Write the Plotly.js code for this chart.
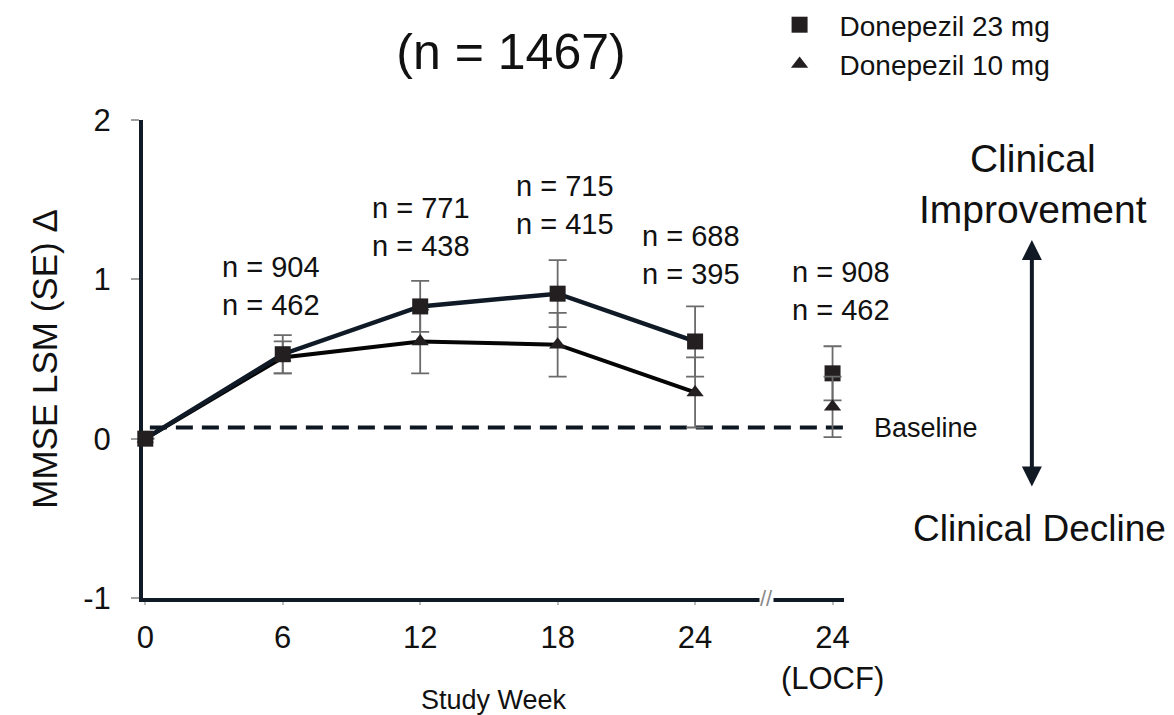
<!DOCTYPE html>
<html>
<head>
<meta charset="utf-8">
<script src="https://cdn.plot.ly/plotly-3.0.1.min.js"></script>
<style>html,body{margin:0;padding:0;background:#fff;}#chart{width:1174px;height:715px;}</style>
</head>
<body>
<div id="chart"></div>
<script>
// ---- data ----
const weeks = [0, 6, 12, 18, 24];
const mean23 = [0, 0.53, 0.83, 0.91, 0.61];
const se23 = [null, 0.12, 0.16, 0.21, 0.22];
const mean10 = [0, 0.51, 0.61, 0.59, 0.29];
const se10 = [null, 0.10, 0.20, 0.20, 0.22];
const locfMean23 = [0.41];
const locfSe23 = [0.17];
const locfMean10 = [0.20];
const locfSe10 = [0.19];
const n23 = [904, 771, 715, 688, 908];
const n10 = [462, 438, 415, 395, 462];
const tickVals = [0, 6, 12, 18, 24, 30];
const tickText = ['0', '6', '12', '18', '24', '24<br>(LOCF)'];
const baselineValue = 0.07;

// ---- layout helpers (positions, not data) ----
const locfSlot = [30];
const nLabelX = [5.5, 12.05, 18.3, 23.8, 30.35];
const nLabelY = [0.96, 1.33, 1.465, 1.15, 0.925];
const breakX = 27.1;

const FONT = 'Liberation Sans, Arial, Helvetica, sans-serif';
const NAVY = '#0f1a26';
const MARK = '#231f20';
const ERR = '#6b6b6b';

const traces = [
  {
    x: weeks, y: mean10, name: 'Donepezil 10 mg', mode: 'lines+markers', showlegend: false,
    line: {color: '#050505', width: 4},
    marker: {symbol: 'triangle-up', size: 15, color: MARK},
    error_y: {type: 'data', array: se10, visible: true, color: ERR, thickness: 1.8, width: 9},
    cliponaxis: false
  },
  {
    x: weeks, y: mean23, name: 'Donepezil 23 mg', mode: 'lines+markers', showlegend: false,
    line: {color: NAVY, width: 4.5},
    marker: {symbol: 'square', size: 16, color: MARK},
    error_y: {type: 'data', array: se23, visible: true, color: ERR, thickness: 1.8, width: 9},
    cliponaxis: false
  },
  {
    x: locfSlot, y: locfMean23, name: 'Donepezil 23 mg', mode: 'markers', legendrank: 1,
    marker: {symbol: 'square', size: 16, color: MARK},
    error_y: {type: 'data', array: locfSe23, visible: true, color: ERR, thickness: 1.8, width: 9},
    cliponaxis: false
  },
  {
    x: locfSlot, y: locfMean10, name: 'Donepezil 10 mg', mode: 'markers', legendrank: 2,
    marker: {symbol: 'triangle-up', size: 15, color: MARK},
    error_y: {type: 'data', array: locfSe10, visible: true, color: ERR, thickness: 1.8, width: 9},
    cliponaxis: false
  }
];

const annotations = n23.map((v, i) => ({
  x: nLabelX[i], y: nLabelY[i], xref: 'x', yref: 'y',
  text: 'n = ' + v + '<br>n = ' + n10[i], showarrow: false,
  font: {family: FONT, size: 29, color: '#111'}, align: 'center',
  xanchor: 'center', yanchor: 'middle'
}));

annotations.push(
  {x: 1.04, y: baselineValue, xref: 'paper', yref: 'y', text: 'Baseline', showarrow: false,
   xanchor: 'left', yanchor: 'middle', font: {family: FONT, size: 27, color: '#111'}},
  {x: 1.27, y: 0.866, xref: 'paper', yref: 'paper', text: 'Clinical<br>Improvement', showarrow: false,
   xanchor: 'center', yanchor: 'middle', font: {family: FONT, size: 39, color: '#111'}},
  {x: 1.279, y: 0.146, xref: 'paper', yref: 'paper', text: 'Clinical Decline', showarrow: false,
   xanchor: 'center', yanchor: 'middle', font: {family: FONT, size: 37, color: '#111'}},
  {x: 1.268, y: 0.749, xref: 'paper', yref: 'paper', ax: 0, ay: 248, axref: 'pixel', ayref: 'pixel',
   text: '', showarrow: true, arrowhead: 2, startarrowhead: 2, arrowside: 'end+start',
   arrowsize: 1, startarrowsize: 1, arrowwidth: 4, arrowcolor: '#111a24'},
  {x: breakX, y: -1, xref: 'x', yref: 'y', text: '//', showarrow: false,
   font: {family: FONT, size: 22, color: '#8a8a8a'}, xanchor: 'center', yanchor: 'middle',
   bgcolor: '#ffffff', borderpad: 0}
);

const shapes = [
  {type: 'line', xref: 'x', yref: 'y', x0: 0.2, x1: 30.5, y0: baselineValue, y1: baselineValue,
   line: {color: '#0d1722', width: 4, dash: '17px,9px'}, layer: 'below'}
];

const layout = {
  width: 1174, height: 715,
  margin: {l: 143, r: 330, t: 120, b: 117, autoexpand: false},
  paper_bgcolor: '#fff', plot_bgcolor: '#fff',
  font: {family: FONT, color: '#111'},
  title: {text: '(n = 1467)', x: 0.525, xref: 'paper', xanchor: 'center', y: 0.928, yref: 'container', yanchor: 'middle',
          font: {family: FONT, size: 50, color: '#111'}},
  showlegend: true,
  legend: {x: 0.647, xref: 'container', xanchor: 'left', y: 1.003, yref: 'container', yanchor: 'top',
           font: {family: FONT, size: 28, color: '#111'},
           bgcolor: 'rgba(0,0,0,0)', tracegroupgap: 0, itemwidth: 70},
  xaxis: {
    range: [-0.1, 30.5], tickmode: 'array', tickvals: tickVals, ticktext: tickText,
    showline: true, linecolor: NAVY, linewidth: 4, showgrid: false, zeroline: false,
    ticks: 'outside', ticklen: 3, tickcolor: '#bbbbbb', tickwidth: 2, ticklabelstandoff: 6,
    tickfont: {family: FONT, size: 31, color: '#111'}, layer: 'below traces',
    title: {text: 'Study Week', font: {family: FONT, size: 27, color: '#111'}, standoff: 0}
  },
  yaxis: {
    range: [-1, 2], tickmode: 'array', tickvals: [-1, 0, 1, 2], ticktext: ['-1', '0', '1', '2'],
    showline: true, linecolor: NAVY, linewidth: 4, showgrid: false, zeroline: false,
    ticks: 'outside', ticklen: 8, tickcolor: '#a0a0a0', tickwidth: 2, ticklabelstandoff: 14,
    tickfont: {family: FONT, size: 31, color: '#111'}, layer: 'below traces',
    title: {text: 'MMSE LSM (SE) Δ', font: {family: FONT, size: 35, color: '#111'}, standoff: 16}
  },
  annotations: annotations,
  shapes: shapes
};

Plotly.newPlot('chart', traces, layout, {displayModeBar: false, staticPlot: true});
</script>
</body>
</html>
